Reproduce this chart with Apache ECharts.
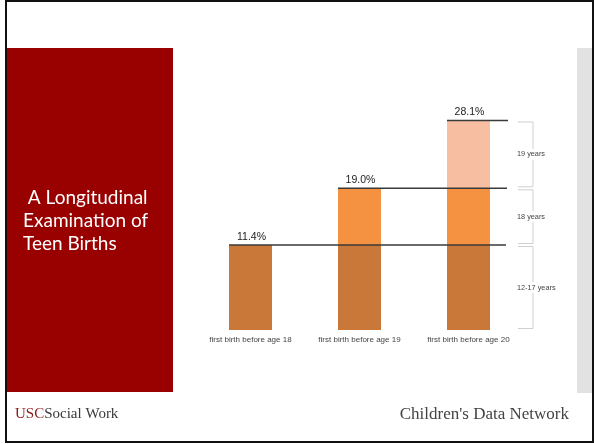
<!DOCTYPE html>
<html>
<head>
<meta charset="utf-8">
<script src="https://cdn.jsdelivr.net/npm/echarts@6/dist/echarts.min.js"></script>
<style>
  html, body { margin: 0; padding: 0; background: #ffffff; }
  #chart { width: 594px; height: 444px; }
</style>
</head>
<body>
<div id="chart"></div>
<script>
// Share of teens with a first birth, split by age at first birth
const categories = ['first birth before age 18', 'first birth before age 19', 'first birth before age 20'];
const age12to17 = [11.4, 11.4, 11.4];
const age18 = [null, 7.6, 7.6];
const age19 = [null, null, 9.1];
const totals = [11.4, 19.0, 28.1];
const totalLabels = ['11.4%', '19.0%', '28.1%'];
const bandNames = ['12-17 years', '18 years', '19 years'];
const bandEdges = [0, 11.4, 19.0, 28.1];
const titleLines = [' A Longitudinal', 'Examination of', 'Teen Births'];

const BAR_W = 43;
const colors = { dark: '#c9783a', mid: '#f59242', light: '#f7bea1' };

const chart = echarts.init(document.getElementById('chart'), null, { renderer: 'canvas' });

// reference lines at each cumulative total, starting at the bar's left edge
const lineData = totals.map((v, i) => [i, v, totalLabels[i]]);
// bracket spans for each age band on the right
const braceData = bandNames.map((n, i) => [bandEdges[i], bandEdges[i + 1], n]);

const option = {
  animation: false,
  backgroundColor: '#ffffff',
  grid: { left: 196, right: 71, top: 106.3, bottom: 114, containLabel: false },
  xAxis: {
    type: 'category',
    data: categories,
    axisLine: { show: false },
    axisTick: { show: false },
    axisLabel: { fontSize: 8, color: '#444', margin: 6, fontFamily: 'Liberation Sans, Arial, sans-serif' }
  },
  yAxis: { type: 'value', min: 0, max: 30, show: false, splitLine: { show: false } },
  series: [
    { name: '12-17 years', type: 'bar', stack: 'births', barWidth: BAR_W, data: age12to17, itemStyle: { color: colors.dark } },
    { name: '18 years', type: 'bar', stack: 'births', barWidth: BAR_W, data: age18, itemStyle: { color: colors.mid } },
    { name: '19 years', type: 'bar', stack: 'births', barWidth: BAR_W, data: age19, itemStyle: { color: colors.light } },
    {
      type: 'custom',
      data: lineData,
      z: 5,
      renderItem: function (params, api) {
        const p = api.coord([api.value(0), api.value(1)]);
        const cs = params.coordSys;
        const x0 = p[0] - BAR_W / 2;
        const x1 = cs.x + cs.width - 17 + params.dataIndex;
        return {
          type: 'group',
          children: [
            { type: 'line', shape: { x1: x0, y1: p[1], x2: x1, y2: p[1] }, style: { stroke: '#3a3a3a', lineWidth: 1.4 } },
            { type: 'text', style: { text: lineData[params.dataIndex][2], x: p[0] + 1, y: p[1] - 8, align: 'center', verticalAlign: 'middle', fontSize: 10.5, fill: '#222', fontFamily: 'Liberation Sans, Arial, sans-serif' } }
          ]
        };
      }
    },
    {
      type: 'custom',
      data: braceData,
      z: 5,
      renderItem: function (params, api) {
        const cs = params.coordSys;
        const yTop = api.coord([0, api.value(1)])[1] + 1.5;
        const yBot = api.coord([0, api.value(0)])[1] - 1.5;
        const xr = cs.x + cs.width + 10;
        const xl = xr - 15;
        return {
          type: 'group',
          children: [
            { type: 'polyline', shape: { points: [[xl, yTop], [xr, yTop], [xr, yBot], [xl, yBot]] }, style: { stroke: '#cfcfcf', lineWidth: 1, fill: null } },
            { type: 'text', style: { text: braceData[params.dataIndex][2], x: xr - 17, y: (yTop + yBot) / 2, align: 'left', verticalAlign: 'middle', fontSize: 7.3, fill: '#444', backgroundColor: '#ffffff', padding: [2, 1], fontFamily: 'Liberation Sans, Arial, sans-serif' } }
          ]
        };
      }
    }
  ],
  graphic: [
    // slide frame
    { type: 'rect', z: 100, shape: { x: 6, y: 1, width: 587, height: 441 }, style: { fill: null, stroke: '#111', lineWidth: 2 } },
    // red side panel
    { type: 'rect', z: 1, shape: { x: 7, y: 48, width: 166, height: 344 }, style: { fill: '#990000' } },
    // grey strip on the right
    { type: 'rect', z: 1, shape: { x: 577, y: 48, width: 15, height: 345 }, style: { fill: '#e2e2e2' } },
    // panel title
    { type: 'text', z: 2, left: 23, top: 186, style: { text: titleLines.join('\n'), fill: '#ffffff', fontSize: 19, lineHeight: 23, fontFamily: 'Lato, sans-serif' } },
    // footer logos
    { type: 'text', z: 2, left: 15, top: 407, style: { rich: { a: { fill: '#8b1a1a', fontSize: 15, fontFamily: 'Liberation Serif, serif' }, b: { fill: '#3a3a3a', fontSize: 15, fontFamily: 'Liberation Serif, serif' } }, text: '{a|USC}{b|Social Work}' } },
    { type: 'text', z: 2, right: 25, top: 406, style: { text: "Children's Data Network", fill: '#444', fontSize: 17, fontFamily: 'Liberation Serif, serif' } }
  ]
};

chart.setOption(option);
</script>
</body>
</html>
